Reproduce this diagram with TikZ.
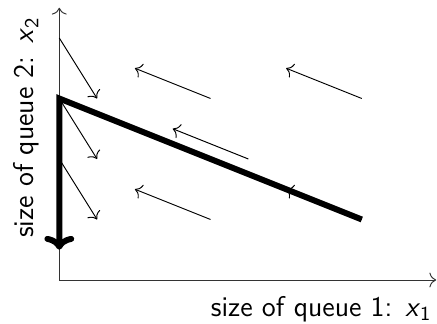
\documentclass[tikz,border=0pt]{standalone}
\usetikzlibrary{arrows.meta}
\newcommand{\qvar}[1]{\textit{x}\textsubscript{#1}}
\begin{document}
\begin{tikzpicture}[x=1cm,y=1cm,
  thinarrow/.style={-{To[length=3.2pt,width=7pt]}, line width=0.45pt},
  axisline/.style={-{To[length=3.2pt,width=7pt]}, line width=0.45pt, black!80},
  thickline/.style={line width=2.8pt, line join=miter, -{To[length=6.5pt,width=14pt]}},
  axlabel/.style={font=\fontsize{13.4}{16}\selectfont\sffamily, inner sep=0pt}]
\useasboundingbox (-0.98,-0.711) rectangle (6.243,4.628);
% axes
\coordinate (O) at (0,0);
\coordinate (xend) at (6.23,0);
\coordinate (yend) at (0,4.5);
\draw[axisline] (O) -- (xend);
\draw[axisline] (O) -- (yend);
% field arrows
\coordinate (a1s) at (2.5,3);   \coordinate (a1e) at (1.25,3.5);
\coordinate (a2s) at (3.125,2); \coordinate (a2e) at (1.875,2.5);
\coordinate (a3s) at (2.5,1);   \coordinate (a3e) at (1.25,1.5);
\coordinate (a4s) at (5,3);     \coordinate (a4e) at (3.75,3.5);
\coordinate (a5s) at (5,1);     \coordinate (a5e) at (3.75,1.5);
\coordinate (b1s) at (0,4);     \coordinate (b1e) at (0.625,3);
\coordinate (b2s) at (0,3);     \coordinate (b2e) at (0.625,2);
\coordinate (b3s) at (0,2);     \coordinate (b3e) at (0.625,1);
\foreach \n in {a1,a2,a3,a4,a5,b1,b2,b3}
  \draw[thinarrow] (\n s) -- (\n e);
% thick line
\coordinate (P) at (5,1);
\coordinate (C) at (0,3);
\coordinate (D) at (0,0.5);
\draw[thickline] (P) -- (C) -- (D);
% labels
\node[axlabel, anchor=base east] (xlab) at (6.16,-0.6) {size of queue 1:\hspace{0.45em}\qvar{1}};
\node[axlabel, anchor=base east, rotate=90] (ylab) at (-0.42,4.35) {size of queue 2:\hspace{0.45em}\qvar{2}};
\end{tikzpicture}
\end{document}
